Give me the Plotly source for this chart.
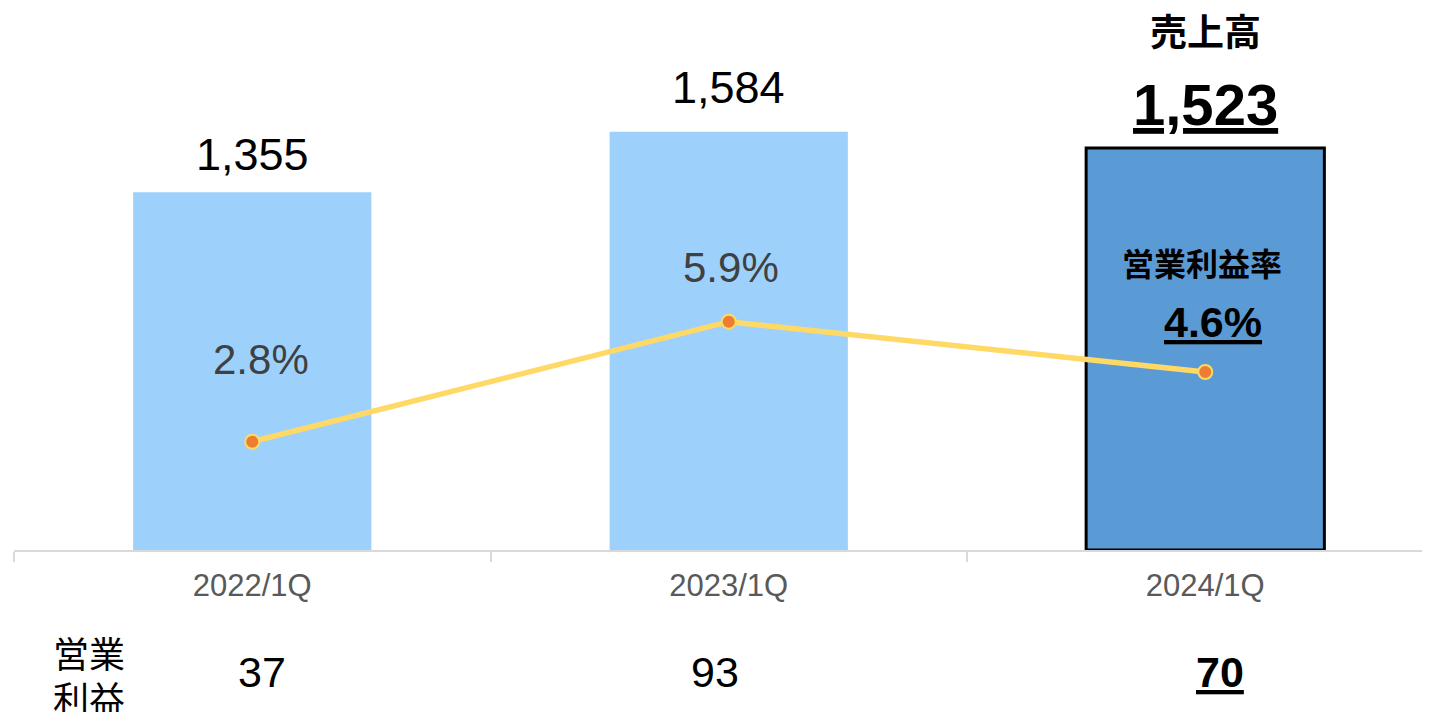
import plotly.graph_objects as go

categories = ["2022/1Q", "2023/1Q", "2024/1Q"]
sales = [1355, 1584, 1523]
sales_labels = ["1,355", "1,584", "1,523"]
margin_pct = [2.8, 5.9, 4.6]
margin_labels = ["2.8%", "5.9%", "4.6%"]
op_profit = [37, 93, 70]

LAT = "Liberation Sans, Arial, Noto Sans CJK JP, sans-serif"
JP = "Noto Sans CJK JP, Liberation Sans, sans-serif"

OFF = 8  # page body margin
W, H = 1430 - OFF, 712 - OFF
BASE = 550  # screen y of the baseline
ML, MR, MT = 14 - OFF, 0, 0
MB = H - (BASE - OFF)
PH = H - MT - MB
PW = W - ML - MR


def py(sy):
    return (BASE - sy) / PH


fig = go.Figure()
fig.add_trace(go.Bar(
    x=categories, y=sales, width=0.5,
    marker=dict(color=["#9DD1FC", "#9DD1FC", "#5B9BD5"],
                line=dict(color="black", width=[0, 0, 3])),
    hoverinfo="skip", showlegend=False,
))
fig.add_trace(go.Scatter(
    x=categories, y=margin_pct, yaxis="y2", mode="lines+markers",
    line=dict(color="#FFD966", width=5.5),
    marker=dict(size=14, color="#ED7D31", line=dict(color="#FFD966", width=2)),
    hoverinfo="skip", showlegend=False,
))

ann = []
ann.append(dict(x=categories[0], y=py(154), text=sales_labels[0],
                font=dict(family=LAT, size=45, color="black")))
ann.append(dict(x=categories[1], y=py(87), text=sales_labels[1],
                font=dict(family=LAT, size=45, color="black")))
ann.append(dict(x=categories[2], y=py(30), text="<b>売上高</b>",
                font=dict(family=JP, size=37, color="black")))
ann.append(dict(x=categories[2], y=py(104), text="<b><u>" + sales_labels[2] + "</u></b>",
                font=dict(family=LAT, size=58, color="black")))
ann.append(dict(x=categories[0], y=py(359), xshift=9, text=margin_labels[0],
                font=dict(family=LAT, size=42, color="#404040")))
ann.append(dict(x=categories[1], y=py(267), xshift=2, text=margin_labels[1],
                font=dict(family=LAT, size=42, color="#404040")))
ann.append(dict(x=categories[2], y=py(262), xshift=-3, text="<b>営業利益率</b>",
                font=dict(family=JP, size=32, color="black")))
ann.append(dict(x=categories[2], y=py(322), xshift=8, text="<b><u>" + margin_labels[2] + "</u></b>",
                font=dict(family=LAT, size=43, color="black")))
ann.append(dict(x=(89 - 14) / PW, xref="paper", y=py(652),
                text="営業", font=dict(family=JP, size=36, color="black")))
ann.append(dict(x=(89 - 14) / PW, xref="paper", y=py(697),
                text="利益", font=dict(family=JP, size=36, color="black")))
shifts = [10, -14, 15]
for i in range(3):
    t = str(op_profit[i])
    if i == 2:
        t = "<b><u>" + t + "</u></b>"
    ann.append(dict(x=categories[i], y=py(672), xshift=shifts[i], text=t,
                    font=dict(family=LAT, size=43, color="black")))

for a in ann:
    a.setdefault("xref", "x")
    a["yref"] = "paper"
    a["showarrow"] = False
    a["xanchor"] = "center"
    a["yanchor"] = "middle"

fig.update_layout(
    width=W, height=H,
    margin=dict(l=ML, r=MR, t=MT, b=MB),
    paper_bgcolor="white", plot_bgcolor="white",
    bargap=0.5,
    xaxis=dict(type="category", range=[-0.5, -0.5 + PW / 476.5],
               showline=True, linecolor="#D9D9D9", linewidth=1.5,
               ticks="outside", tickson="boundaries", ticklen=10, tickcolor="#D9D9D9",
               tickwidth=1.5, ticklabelstandoff=7,
               tickfont=dict(family=LAT, size=31, color="#595959"),
               showgrid=False, zeroline=False, fixedrange=True),
    yaxis=dict(range=[0, PH / 0.264], visible=False, showgrid=False, zeroline=False),
    yaxis2=dict(range=[0, PH / 38.7], overlaying="y", visible=False,
                showgrid=False, zeroline=False),
    annotations=ann,
)

fig.write_html("out.html")
